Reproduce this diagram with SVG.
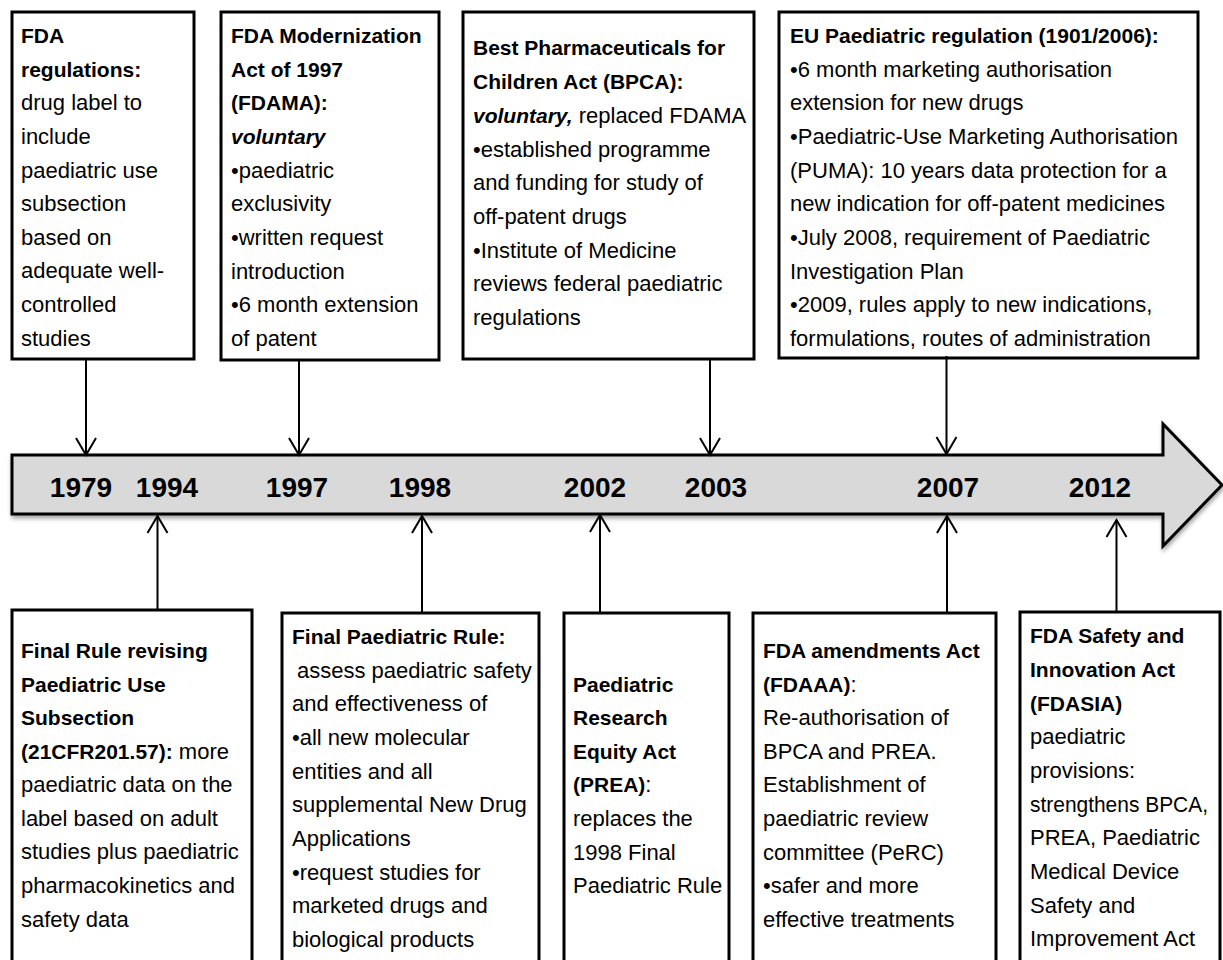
<svg xmlns="http://www.w3.org/2000/svg" width="1223" height="960" viewBox="0 0 1223 960">
<style>
.box{fill:#fff;stroke:#000;stroke-width:3}
.t{font-family:"Liberation Sans",Arial,sans-serif;font-size:22px;fill:#000}
.b{font-weight:bold;font-size:21px}
.bi{font-weight:bold;font-style:italic;font-size:21px}
.yr{font-family:"Liberation Sans",Arial,sans-serif;font-size:28px;font-weight:bold;fill:#000;text-anchor:middle}
.ar{stroke:#000;stroke-width:2;fill:none;marker-end:url(#ah)}
</style>
<defs>
<marker id="ah" viewBox="-20 -12 22 24" markerWidth="22" markerHeight="24" refX="0" refY="0" orient="auto" markerUnits="userSpaceOnUse">
<path d="M-17,-10 L0,0 L-17,10" fill="none" stroke="#000" stroke-width="2"/>
</marker>
<filter id="sh" x="-5%" y="-20%" width="110%" height="150%">
<feDropShadow dx="1" dy="3" stdDeviation="2" flood-color="#000" flood-opacity="0.35"/>
</filter>
</defs>
<rect width="1223" height="960" fill="#fff"/>

<g id="timeline">
<path d="M12,455 H1163 V424 L1222,485 L1163,546 V514 H12 Z" fill="#d9d9d9" stroke="#000" stroke-width="3" stroke-linejoin="miter" filter="url(#sh)"/>
<text class="yr" x="81" y="497">1979</text>
<text class="yr" x="167" y="497">1994</text>
<text class="yr" x="297" y="497">1997</text>
<text class="yr" x="420" y="497">1998</text>
<text class="yr" x="595" y="497">2002</text>
<text class="yr" x="716" y="497">2003</text>
<text class="yr" x="948" y="497">2007</text>
<text class="yr" x="1100" y="497">2012</text>
</g>

<g id="node-1979">
<rect class="box" x="12" y="12" width="182" height="347"/>
<text class="t">
<tspan class="b" x="21" y="43">FDA</tspan>
<tspan class="b" x="21" y="77">regulations:</tspan>
<tspan x="21" y="110">drug label to</tspan>
<tspan x="21" y="144">include</tspan>
<tspan x="21" y="178">paediatric use</tspan>
<tspan x="21" y="211">subsection</tspan>
<tspan x="21" y="245">based on</tspan>
<tspan x="21" y="278">adequate well-</tspan>
<tspan x="21" y="312">controlled</tspan>
<tspan x="21" y="346">studies</tspan>
</text>
</g>

<g id="node-1997">
<rect class="box" x="221" y="12" width="218" height="348"/>
<text class="t">
<tspan class="b" x="231" y="43">FDA Modernization</tspan>
<tspan class="b" x="231" y="77">Act of 1997</tspan>
<tspan class="b" x="231" y="110">(FDAMA):</tspan>
<tspan class="bi" x="231" y="144">voluntary</tspan>
<tspan x="231" y="178">•paediatric</tspan>
<tspan x="231" y="211">exclusivity</tspan>
<tspan x="231" y="245">•written request</tspan>
<tspan x="231" y="279">introduction</tspan>
<tspan x="231" y="312">•6 month extension</tspan>
<tspan x="231" y="346">of patent</tspan>
</text>
</g>

<g id="node-2003">
<rect class="box" x="463" y="12" width="291" height="347"/>
<text class="t">
<tspan class="b" x="473" y="55">Best Pharmaceuticals for</tspan>
<tspan class="b" x="473" y="89">Children Act (BPCA):</tspan>
<tspan class="bi" x="473" y="123">voluntary,</tspan><tspan> replaced FDAMA</tspan>
<tspan x="473" y="157">•established programme</tspan>
<tspan x="473" y="190">and funding for study of</tspan>
<tspan x="473" y="224">off-patent drugs</tspan>
<tspan x="473" y="258">•Institute of Medicine</tspan>
<tspan x="473" y="291">reviews federal paediatric</tspan>
<tspan x="473" y="325">regulations</tspan>
</text>
</g>

<g id="node-2007-eu">
<rect class="box" x="779" y="12" width="419" height="346"/>
<text class="t">
<tspan class="b" x="790" y="43">EU Paediatric regulation (1901/2006):</tspan>
<tspan x="790" y="77">•6 month marketing authorisation</tspan>
<tspan x="790" y="110">extension for new drugs</tspan>
<tspan x="790" y="144">•Paediatric-Use Marketing Authorisation</tspan>
<tspan x="790" y="178">(PUMA): 10 years data protection for a</tspan>
<tspan x="790" y="211">new indication for off-patent medicines</tspan>
<tspan x="790" y="245">•July 2008, requirement of Paediatric</tspan>
<tspan x="790" y="279">Investigation Plan</tspan>
<tspan x="790" y="312">•2009, rules apply to new indications,</tspan>
<tspan x="790" y="346">formulations, routes of administration</tspan>
</text>
</g>

<g id="node-1994">
<rect class="box" x="12" y="610" width="240" height="370"/>
<text class="t">
<tspan class="b" x="21" y="658">Final Rule revising</tspan>
<tspan class="b" x="21" y="692">Paediatric Use</tspan>
<tspan class="b" x="21" y="725">Subsection</tspan>
<tspan class="b" x="21" y="759">(21CFR201.57):</tspan><tspan> more</tspan>
<tspan x="21" y="792">paediatric data on the</tspan>
<tspan x="21" y="826">label based on adult</tspan>
<tspan x="21" y="859">studies plus paediatric</tspan>
<tspan x="21" y="893">pharmacokinetics and</tspan>
<tspan x="21" y="927">safety data</tspan>
</text>
</g>

<g id="node-1998">
<rect class="box" x="282" y="613" width="257" height="370"/>
<text class="t">
<tspan class="b" x="292" y="644">Final Paediatric Rule:</tspan>
<tspan x="297" y="678">assess paediatric safety</tspan>
<tspan x="292" y="711">and effectiveness of</tspan>
<tspan x="292" y="745">•all new molecular</tspan>
<tspan x="292" y="779">entities and all</tspan>
<tspan x="292" y="812">supplemental New Drug</tspan>
<tspan x="292" y="846">Applications</tspan>
<tspan x="292" y="880">•request studies for</tspan>
<tspan x="292" y="913">marketed drugs and</tspan>
<tspan x="292" y="947">biological products</tspan>
</text>
</g>

<g id="node-2002">
<rect class="box" x="564" y="613" width="165" height="370"/>
<text class="t">
<tspan class="b" x="573" y="692">Paediatric</tspan>
<tspan class="b" x="573" y="725">Research</tspan>
<tspan class="b" x="573" y="759">Equity Act</tspan>
<tspan class="b" x="573" y="792">(PREA)</tspan><tspan>:</tspan>
<tspan x="573" y="826">replaces the</tspan>
<tspan x="573" y="860">1998 Final</tspan>
<tspan x="573" y="893">Paediatric Rule</tspan>
</text>
</g>

<g id="node-2007-fdaaa">
<rect class="box" x="753" y="613" width="243" height="370"/>
<text class="t">
<tspan class="b" x="763" y="658">FDA amendments Act</tspan>
<tspan class="b" x="763" y="692">(FDAAA)</tspan><tspan>:</tspan>
<tspan x="763" y="725">Re-authorisation of</tspan>
<tspan x="763" y="759">BPCA and PREA.</tspan>
<tspan x="763" y="792">Establishment of</tspan>
<tspan x="763" y="826">paediatric review</tspan>
<tspan x="763" y="860">committee (PeRC)</tspan>
<tspan x="763" y="893">•safer and more</tspan>
<tspan x="763" y="927">effective treatments</tspan>
</text>
</g>

<g id="node-2012">
<rect class="box" x="1020" y="612" width="200" height="370"/>
<text class="t">
<tspan class="b" x="1030" y="643">FDA Safety and</tspan>
<tspan class="b" x="1030" y="677">Innovation Act</tspan>
<tspan class="b" x="1030" y="711">(FDASIA)</tspan>
<tspan x="1030" y="744">paediatric</tspan>
<tspan x="1030" y="778">provisions:</tspan>
<tspan x="1030" y="812" textLength="178" lengthAdjust="spacingAndGlyphs">strengthens BPCA,</tspan>
<tspan x="1030" y="845">PREA, Paediatric</tspan>
<tspan x="1030" y="879">Medical Device</tspan>
<tspan x="1030" y="913">Safety and</tspan>
<tspan x="1030" y="946">Improvement Act</tspan>
</text>
</g>

<g id="connectors">
<line class="ar" x1="86" y1="359" x2="86" y2="455"/>
<line class="ar" x1="299" y1="360" x2="299" y2="455"/>
<line class="ar" x1="710" y1="359" x2="710" y2="455"/>
<line class="ar" x1="946.5" y1="356" x2="946.5" y2="454"/>
<line class="ar" x1="157.5" y1="609" x2="157.5" y2="516"/>
<line class="ar" x1="422" y1="613" x2="422" y2="516"/>
<line class="ar" x1="600" y1="612" x2="600" y2="515"/>
<line class="ar" x1="947" y1="612" x2="947" y2="516"/>
<line class="ar" x1="1116.5" y1="612" x2="1116.5" y2="520"/>
</g>
</svg>
